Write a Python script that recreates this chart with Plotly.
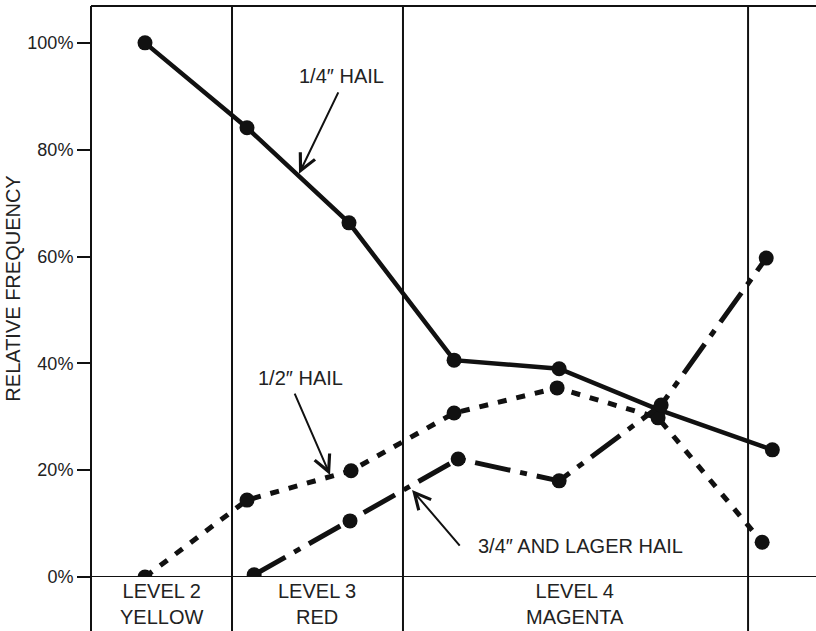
import plotly.graph_objects as go

# ---------------- data ----------------
y_ticks = [0, 20, 40, 60, 80, 100]
y_tick_labels = ["0%", "20%", "40%", "60%", "80%", "100%"]

quarter_x = [1.0, 2.0, 3.0, 4.03, 5.06, 6.04, 7.15]
quarter_y = [100, 84.1, 66.3, 40.6, 39.0, 31.3, 23.8]

half_x = [1.0, 2.0, 3.02, 4.03, 5.04, 6.03, 7.05]
half_y = [0, 14.4, 19.9, 30.7, 35.4, 29.8, 6.5]

large_x = [2.07, 3.01, 4.07, 5.06, 6.06, 7.09]
large_y = [0.4, 10.5, 22.1, 18.0, 32.2, 59.7]

level_bounds = [1.853, 3.529, 6.912]
level_labels = ["LEVEL 2<br>YELLOW", "LEVEL 3<br>RED", "LEVEL 4<br>MAGENTA"]
level_label_x = [1.157, 2.69, 5.216]

FONT = "Liberation Sans, Arial, sans-serif"
INK = "#111111"
TXT = "#222222"

fig = go.Figure()

fig.add_trace(go.Scatter(
    x=quarter_x, y=quarter_y, mode="lines+markers", name='1/4" hail',
    line=dict(color=INK, width=4.5),
    marker=dict(color=INK, size=15),
))
fig.add_trace(go.Scatter(
    x=half_x, y=half_y, mode="lines+markers", name='1/2" hail',
    line=dict(color=INK, width=5, dash="9px,10px"),
    marker=dict(color=INK, size=15),
))
fig.add_trace(go.Scatter(
    x=large_x, y=large_y, mode="lines+markers", name='3/4" and larger hail',
    line=dict(color=INK, width=5, dash="36px,10px,7px,10px"),
    marker=dict(color=INK, size=15),
))

shapes = []
# level separators (extend below the axis)
for xb in level_bounds:
    shapes.append(dict(type="line", xref="x", yref="paper", x0=xb, x1=xb,
                       y0=-0.2, y1=1, line=dict(color=INK, width=2)))
# left axis line extending below
shapes.append(dict(type="line", xref="paper", yref="paper", x0=0, x1=0,
                   y0=-0.2, y1=1, line=dict(color=INK, width=2)))
# top border
shapes.append(dict(type="line", xref="paper", yref="paper", x0=0, x1=1,
                   y0=1, y1=1, line=dict(color=INK, width=2)))
# baseline
shapes.append(dict(type="line", xref="paper", yref="y", x0=-0.018, x1=1,
                   y0=0, y1=0, line=dict(color=INK, width=2)))

annotations = []
for lx, lt in zip(level_label_x, level_labels):
    annotations.append(dict(x=lx, y=-0.047, xref="x", yref="paper", text=lt,
                            showarrow=False, xanchor="center", yanchor="middle",
                            font=dict(family=FONT, size=20, color=TXT)))

annotations.append(dict(x=-0.1076, y=0.505, xref="paper", yref="paper",
                        text="RELATIVE FREQUENCY", textangle=-90, showarrow=False,
                        xanchor="center", yanchor="middle",
                        font=dict(family=FONT, size=20, color=TXT)))

# labels
annotations.append(dict(x=2.931, y=93.8, xref="x", yref="y", text="1/4\u2033 HAIL",
                        showarrow=False, font=dict(family=FONT, size=20, color=TXT)))
annotations.append(dict(x=2.52, y=37.3, xref="x", yref="y", text="1/2\u2033 HAIL",
                        showarrow=False, font=dict(family=FONT, size=20, color=TXT)))
annotations.append(dict(x=5.265, y=5.8, xref="x", yref="y", text="3/4\u2033 AND LAGER HAIL",
                        showarrow=False, font=dict(family=FONT, size=20, color=TXT)))

# arrows
arrow_common = dict(xref="x", yref="y", axref="x", ayref="y", text="",
                    showarrow=True, arrowhead=5, arrowsize=1.6, arrowwidth=2,
                    arrowcolor=INK, standoff=0)
annotations.append(dict(x=2.51, y=75.5, ax=2.902, ay=91.0, **arrow_common))
annotations.append(dict(x=2.814, y=19.1, ax=2.461, ay=34.6, **arrow_common))
annotations.append(dict(x=3.618, y=16.3, ax=4.098, ay=5.6, **arrow_common))

fig.update_layout(
    width=816, height=631,
    margin=dict(l=91, r=0, t=6, b=54),
    paper_bgcolor="white", plot_bgcolor="white",
    showlegend=False,
    shapes=shapes,
    annotations=annotations,
    font=dict(family=FONT, color=TXT),
    xaxis=dict(range=[0.4706, 7.578], showgrid=False, zeroline=False,
               showticklabels=False, ticks="", showline=False, fixedrange=True),
    yaxis=dict(range=[0, 106.9], showgrid=False, zeroline=False,
               tickvals=y_ticks, ticktext=y_tick_labels, ticks="outside",
               ticklen=13, tickwidth=2, tickcolor=INK, showline=False,
               tickfont=dict(family=FONT, size=18, color=TXT), fixedrange=True),
)

fig.write_html(
    "out.html",
    config={"displayModeBar": False},
    post_script="document.body.style.margin='0';document.body.style.padding='0';",
)
